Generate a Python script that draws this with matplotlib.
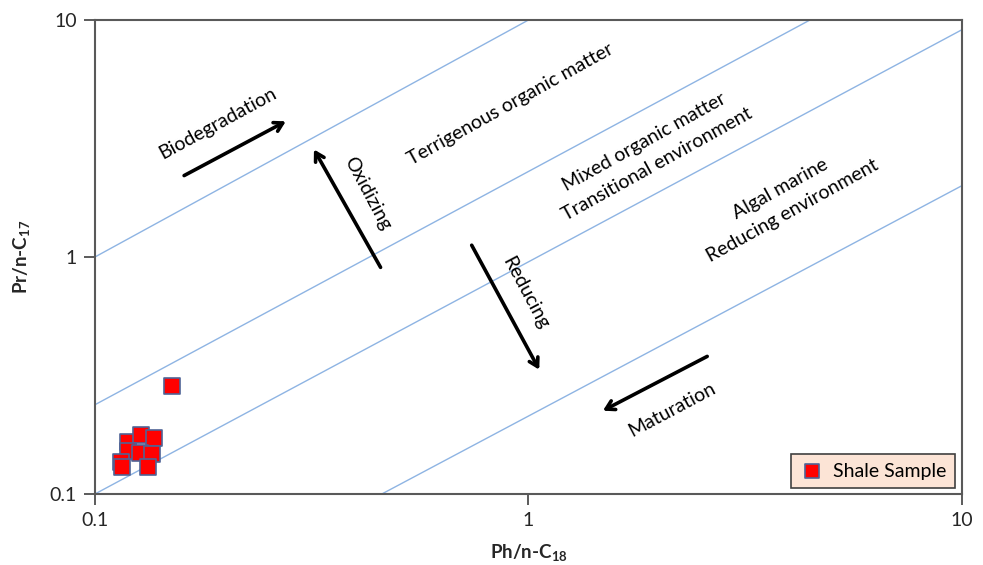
import matplotlib
matplotlib.use("Agg")
import matplotlib.pyplot as plt

plt.rcParams["font.family"] = ["Lato", "DejaVu Sans"]
plt.rcParams["mathtext.fontset"] = "custom"
plt.rcParams["mathtext.bf"] = "Lato:bold"
plt.rcParams["mathtext.rm"] = "Lato"

# shale samples (Ph/n-C18, Pr/n-C17)
ph_c18 = [0.1505, 0.1192, 0.1277, 0.1368, 0.1192, 0.1270, 0.1353, 0.1148, 0.1154, 0.1325]
pr_c17 = [0.2855, 0.1657, 0.1774, 0.1723, 0.1518, 0.1490, 0.1475, 0.1365, 0.1300, 0.1300]

# boundary lines, endpoints (x0, x1), (y0, y1)
boundary_x = [(0.1, 1.0), (0.1, 4.46), (0.1, 10.0), (0.459, 10.0)]
boundary_y = [(1.0, 10.0), (0.238, 10.0), (0.1, 9.1), (0.1, 2.0)]

# field labels in axes fraction: text, x, y, rotation
field_labels = [
    ("Terrigenous organic matter", 0.479, 0.823, 29),
    ("Mixed organic matter", 0.634, 0.743, 29),
    ("Transitional environment", 0.648, 0.696, 29),
    ("Algal marine", 0.791, 0.643, 29),
    ("Reducing environment", 0.804, 0.597, 29),
    ("Biodegradation", 0.142, 0.783, 28.5),
    ("Oxidizing", 0.314, 0.635, -62),
    ("Reducing", 0.496, 0.424, -62),
    ("Maturation", 0.666, 0.177, 28),
]

# arrows in axes fraction: (tail, head)
arrows = [
    ((0.100, 0.669), (0.223, 0.789)),
    ((0.331, 0.473), (0.251, 0.732)),
    ((0.433, 0.530), (0.514, 0.257)),
    ((0.709, 0.293), (0.583, 0.173)),
]

fig = plt.figure(figsize=(9.83, 5.65), dpi=100)
ax = fig.add_axes([0.0966, 0.1257, 0.882, 0.8389])

for xs, ys in zip(boundary_x, boundary_y):
    ax.plot(xs, ys, color="#8eb4e3", lw=1.0, zorder=1)

ax.scatter(ph_c18, pr_c17, marker="s", s=135, c="#ff0000",
           edgecolors="#4f6396", linewidths=1.2, zorder=3, label="Shale Sample")

ax.set_xscale("log")
ax.set_yscale("log")
ax.set_xlim(0.1, 10)
ax.set_ylim(0.1, 10)
ax.set_xticks([0.1, 1, 10])
ax.set_xticklabels(["0.1", "1", "10"])
ax.set_yticks([0.1, 1, 10])
ax.set_yticklabels(["0.1", "1", "10"])
ax.minorticks_off()
ax.tick_params(direction="out", length=8, width=1.2, color="#404040",
               labelsize=14, labelcolor="#262626", pad=5)
for sp in ax.spines.values():
    sp.set_color("#595959")
    sp.set_linewidth(1.5)

ax.set_xlabel(r"Ph/n-C$_{\mathbf{18}}$", fontsize=13.5, fontweight="bold",
              color="#262626", labelpad=10)
ax.set_ylabel(r"Pr/n-C$_{\mathbf{17}}$", fontsize=13.5, fontweight="bold",
              color="#262626", labelpad=12)

for txt, fx, fy, rot in field_labels:
    ax.text(fx, fy, txt, transform=ax.transAxes, rotation=rot, fontsize=14,
            ha="center", va="center", rotation_mode="anchor", color="black")

for tail, head in arrows:
    ax.annotate("", xy=head, xytext=tail, xycoords="axes fraction",
                textcoords="axes fraction",
                arrowprops=dict(arrowstyle="->,head_length=0.6,head_width=0.35",
                                lw=2.6, color="black"))

leg = ax.legend(loc="lower right", bbox_to_anchor=(0.992, 0.012), borderaxespad=0,
                fancybox=False, facecolor="#fce4d6", edgecolor="#404040",
                framealpha=1, fontsize=14, handletextpad=0.5, borderpad=0.45,
                handlelength=1.2, markerscale=0.9)
leg.get_frame().set_linewidth(1.2)

fig.savefig("out.png", dpi=100)
